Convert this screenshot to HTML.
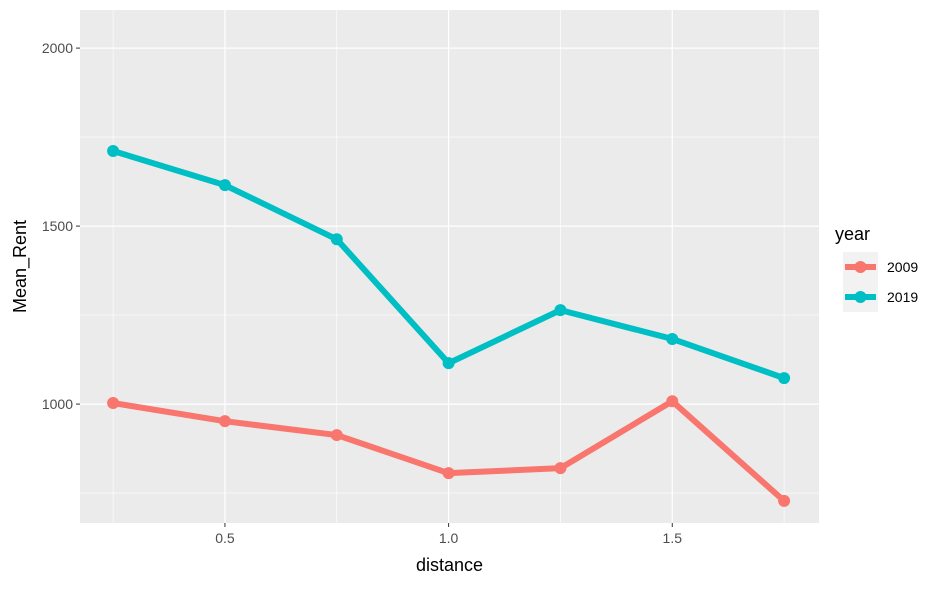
<!DOCTYPE html>
<html><head><meta charset="utf-8"><style>
body{margin:0;background:#fff;font-family:"Liberation Sans",Arial,sans-serif}
</style></head><body>
<svg id="chart" width="944" height="584" xmlns="http://www.w3.org/2000/svg"></svg>
<script>
const xVals=[0.25,0.5,0.75,1.0,1.25,1.5,1.75];
const rent2009=[1003,952,913,806,820,1008,728];
const rent2019=[1711,1615,1463,1115,1264,1183,1073];
const xTicks=[0.5,1.0,1.5];
const xTickLabels=["0.5","1.0","1.5"];
const yTicks=[1000,1500,2000];
const yTickLabels=["1000","1500","2000"];
const seriesNames=["2009","2019"];

const svg=document.getElementById('chart');
const NS="http://www.w3.org/2000/svg";
const L=80,R=819,T=10,B=523;
const xMin=0.176,xMax=1.828,yMin=666,yMax=2107;
const sx=v=>L+(v-xMin)/(xMax-xMin)*(R-L);
const sy=v=>B-(v-yMin)/(yMax-yMin)*(B-T);
function mk(tag,attrs,parent){const e=document.createElementNS(NS,tag);for(const k in attrs)e.setAttribute(k,attrs[k]);(parent||svg).appendChild(e);return e;}

const panel=mk('rect',{x:L,y:T,width:R-L,height:B-T,fill:'#EBEBEB'});


// minor grids
[750,1250,1750].forEach(v=>{const g=mk('line',{x1:L,x2:R,y1:sy(v),y2:sy(v),stroke:'#fff','stroke-width':0.6});

});
[0.25,0.75,1.25,1.75].forEach(v=>{const g=mk('line',{y1:T,y2:B,x1:sx(v),x2:sx(v),stroke:'#fff','stroke-width':0.6});

});
yTicks.forEach((v,i)=>{
 const g=mk('line',{x1:L,x2:R,y1:sy(v),y2:sy(v),stroke:'#fff','stroke-width':1.2});
 
 
 mk('line',{x1:L-4,x2:L,y1:sy(v),y2:sy(v),stroke:'#333','stroke-width':1});
 const t=mk('text',{x:L-7,y:sy(v)+5,'text-anchor':'end','font-size':14,fill:'#4D4D4D'});
 t.textContent=yTickLabels[i];
 
 
});
xTicks.forEach((v,i)=>{
 const g=mk('line',{y1:T,y2:B,x1:sx(v),x2:sx(v),stroke:'#fff','stroke-width':1.2});
 
 
 mk('line',{y1:B,y2:B+4,x1:sx(v),x2:sx(v),stroke:'#333','stroke-width':1});
 const t=mk('text',{x:sx(v),y:B+20,'text-anchor':'middle','font-size':14,fill:'#4D4D4D'});
 t.textContent=xTickLabels[i];
 
 
});
const colors=['#F8766D','#00BFC4'];
[rent2009,rent2019].forEach((s,k)=>{
 const p=mk('polyline',{points:s.map((v,i)=>sx(xVals[i])+','+sy(v)).join(' '),fill:'none',stroke:colors[k],'stroke-width':6,'stroke-linejoin':'round'});
 
 
 s.forEach((v,i)=>{const c=mk('circle',{cx:sx(xVals[i]),cy:sy(v),r:6,fill:colors[k]});
 
 });
});
let t=mk('text',{x:(L+R)/2,y:571,'text-anchor':'middle','font-size':18,fill:'#000'});t.textContent='distance';


t=mk('text',{x:0,y:0,'text-anchor':'middle','font-size':18,fill:'#000',transform:`translate(26,${(T+B)/2}) rotate(-90)`});t.textContent='Mean_Rent';


t=mk('text',{x:835,y:240,'font-size':18,fill:'#000'});t.textContent='year';


seriesNames.forEach((n,k)=>{
 const cy=267+k*30;
 const g=mk('g',{});
 
 
 mk('rect',{x:843,y:cy-15,width:35,height:30,fill:'#F2F2F2'},g);
 mk('line',{x1:845,x2:876,y1:cy,y2:cy,stroke:colors[k],'stroke-width':6},g);
 mk('circle',{cx:860.5,cy:cy,r:6,fill:colors[k]},g);
 const tt=mk('text',{x:887,y:cy+5,'font-size':14,fill:'#000'},g);tt.textContent=n;
});
</script>
</body></html>
